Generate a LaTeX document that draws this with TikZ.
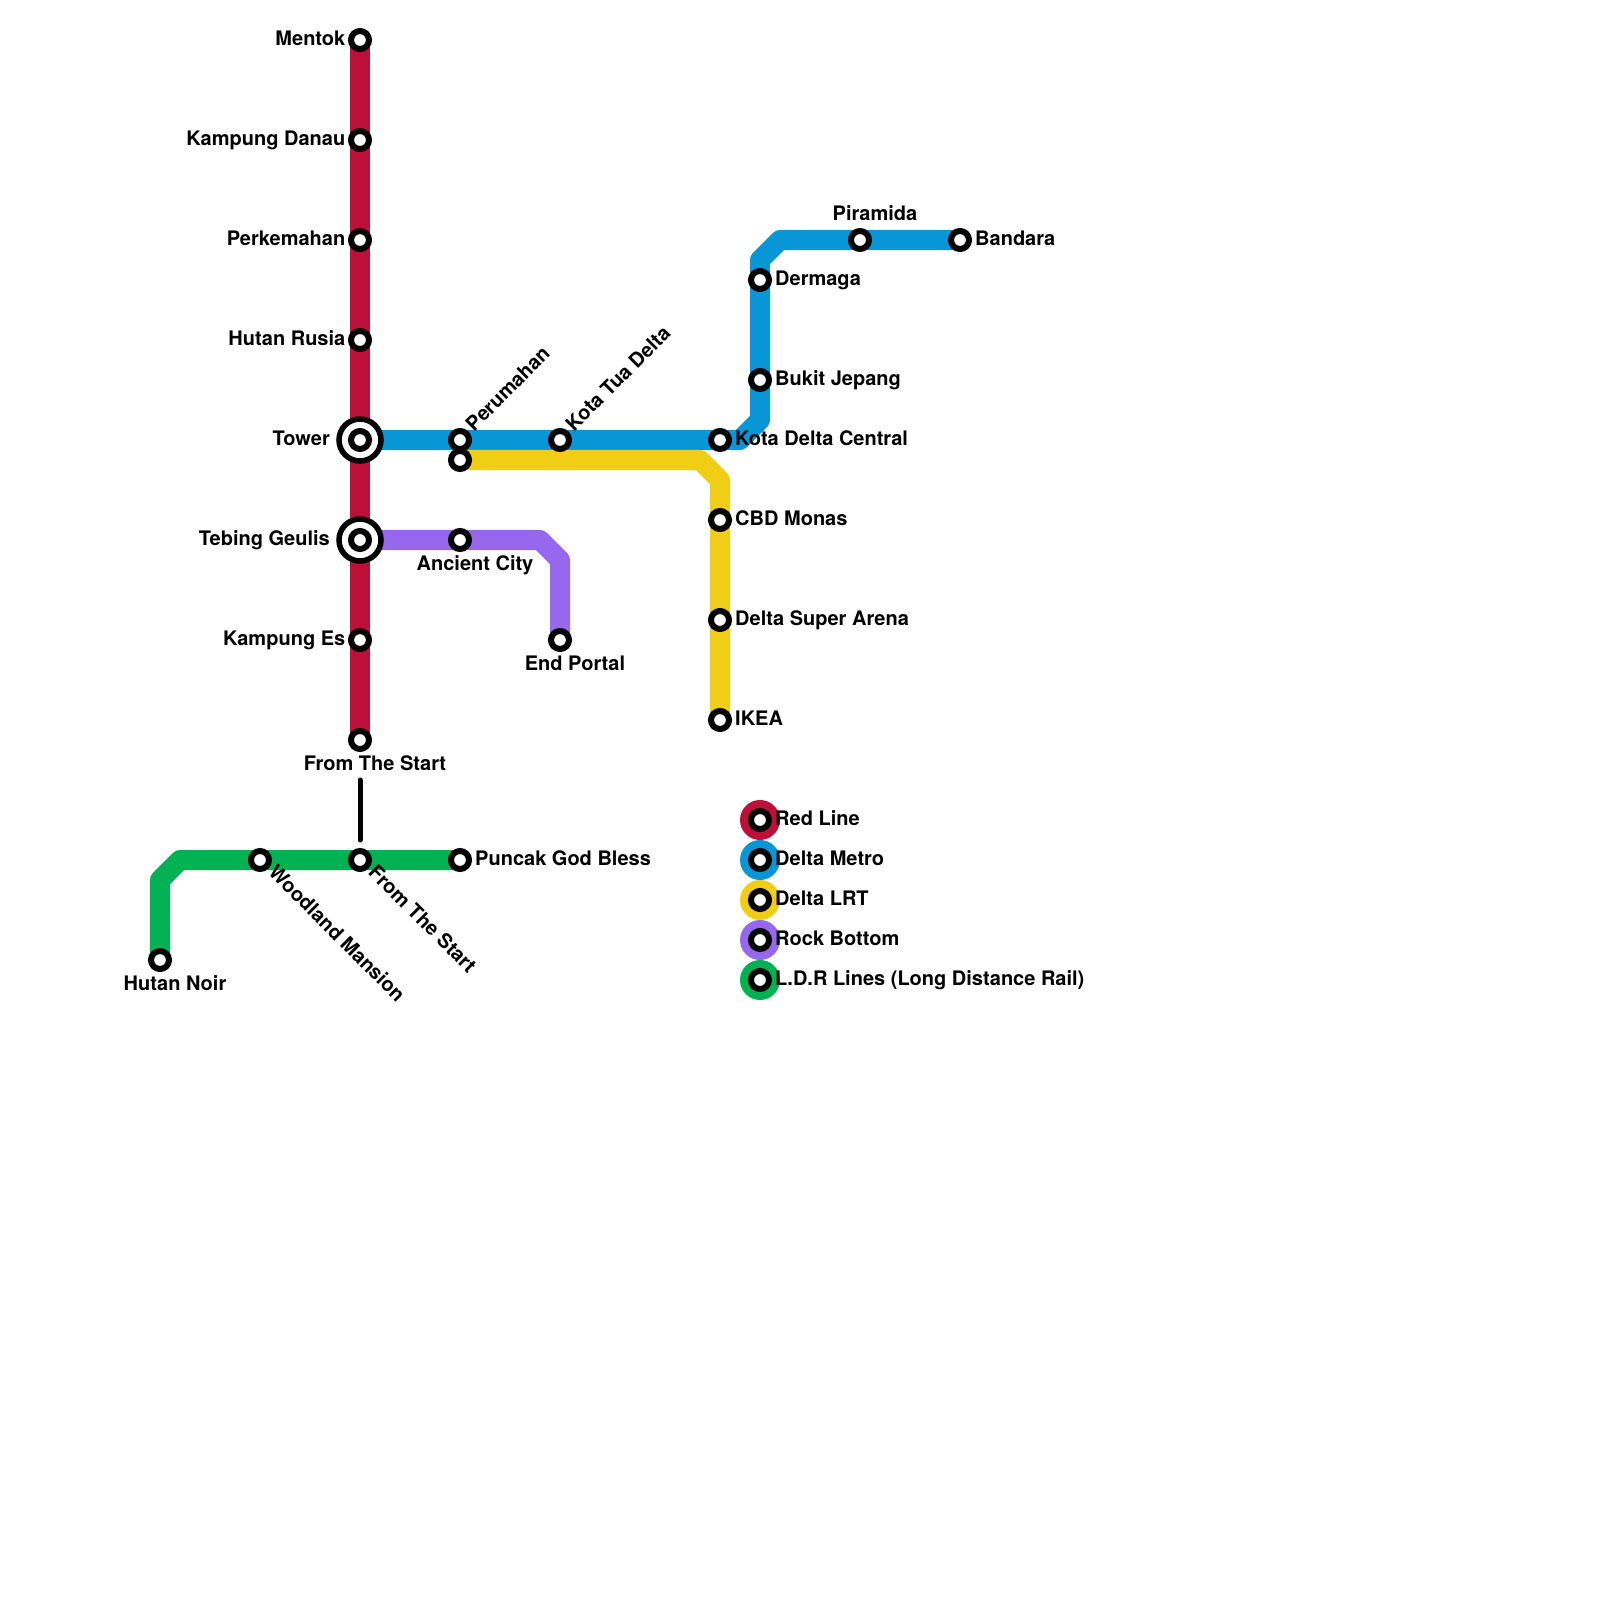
\documentclass[tikz,border=0pt]{standalone}
\usepackage{fontspec}
\setmainfont{TeX Gyre Heros}
\usetikzlibrary{backgrounds}
\definecolor{redline}{HTML}{BD1038}
\definecolor{deltametro}{HTML}{0896D7}
\definecolor{deltalrt}{HTML}{F0CE15}
\definecolor{rockbottom}{HTML}{9768EE}
\definecolor{ldrlines}{HTML}{00B251}
\tikzset{
  station/.style={circle,draw=black,fill=white,line width=0.6mm,minimum size=1.8mm,inner sep=0pt,outer sep=0pt},
  interchange/.style={circle,draw=black,fill=white,line width=0.55mm,minimum size=4.2mm,inner sep=0pt,outer sep=0pt},
  stationname/.style={inner sep=0pt,text height=1.45mm,text depth=0.4mm,font=\bfseries\fontsize{5.69}{6.5}\selectfont},
  metroline/.style={line width=2mm,line join=round},
  legenddisc/.style={circle,fill=#1,minimum size=4mm,inner sep=0pt,outer sep=0pt},
  transfer/.style={black,line width=0.5mm,line cap=round}
}
\newcommand{\namedstop}[7]{%
  \node[station] (#1) at (#2,#3) {};%
  \node[stationname,anchor=#5] (#1name) at (#2+#6,#3+#7) {#4};%
}
\begin{document}
\begin{tikzpicture}[x=0.01cm,y=-0.01cm]
  \useasboundingbox (0,0) rectangle (1600,1600);
  \node[interchange] (towerring) at (360,440) {};
  \node[interchange] (tebingring) at (360,540) {};
  \foreach \id/\y/\txt in {mentok/40/Mentok,danau/140/Kampung Danau,perkemahan/240/Perkemahan,rusia/340/Hutan Rusia,es/640/Kampung Es}
    \namedstop{\id}{360}{\y}{\txt}{east}{-14}{0};
  \namedstop{tower}{360}{440}{Tower}{east}{-29.5}{0}
  \namedstop{tebing}{360}{540}{Tebing Geulis}{east}{-29.5}{0}
  \namedstop{fromstart}{360}{740}{From The Start}{center}{15}{25}
  \node[station] (yellowstart) at (460,460) {};
  \foreach \id/\x/\y/\txt in {central/720/440/Kota Delta Central,monas/720/520/CBD Monas,arena/720/620/Delta Super Arena,ikea/720/720/IKEA,jepang/760/380/Bukit Jepang,dermaga/760/280/Dermaga,bandara/960/240/Bandara,puncak/460/860/Puncak God Bless}
    \namedstop{\id}{\x}{\y}{\txt}{west}{14.5}{0};
  \namedstop{piramida}{860}{240}{Piramida}{center}{15}{-25}
  \namedstop{ancient}{460}{540}{Ancient City}{center}{15}{25}
  \namedstop{endportal}{560}{640}{End Portal}{center}{15}{25}
  \namedstop{hutannoir}{160}{960}{Hutan Noir}{center}{15}{25}
  \node[station] (perumahan) at (460,440) {};
  \node[station] (kotatua) at (560,440) {};
  \node[station] (woodland) at (260,860) {};
  \node[station] (fromstartldr) at (360,860) {};
  \node[stationname,anchor=west,rotate=45] (perumahanname) at (470,429) {Perumahan};
  \node[stationname,anchor=west,rotate=45] (kotatuaname) at (570,429) {Kota Tua Delta};
  \node[stationname,anchor=west,rotate=-45] (woodlandname) at (270.5,869.5) {Woodland Mansion};
  \node[stationname,anchor=west,rotate=-45] (fromstartldrname) at (370.5,869.5) {From The Start};
  \foreach \id/\y/\col/\txt in {red/820/redline/Red Line,metro/860/deltametro/Delta Metro,lrt/900/deltalrt/Delta LRT,rock/940/rockbottom/Rock Bottom,ldr/980/ldrlines/L.D.R Lines (Long Distance Rail)}{
    \node[legenddisc=\col] (\id disc) at (760,\y) {};
    \namedstop{\id}{760}{\y}{\txt}{west}{14.5}{0}
  }
  \begin{scope}[on background layer]
    \coordinate (metrolow) at (760,420);
    \coordinate (metrolowleft) at (740,440);
    \coordinate (metrohigh) at (760,260);
    \coordinate (metrohighright) at (780,240);
    \coordinate (lrtleft) at (700,460);
    \coordinate (lrtdown) at (720,480);
    \coordinate (rockleft) at (540,540);
    \coordinate (rockdown) at (560,560);
    \coordinate (ldrright) at (180,860);
    \coordinate (ldrdown) at (160,880);
    \draw[metroline,redline] (mentok.center) -- (fromstart.center);
    \draw[metroline,deltametro] (tower.center) -- (metrolowleft) -- (metrolow) -- (metrohigh) -- (metrohighright) -- (bandara.center);
    \draw[metroline,deltalrt] (yellowstart.center) -- (lrtleft) -- (lrtdown) -- (ikea.center);
    \draw[metroline,rockbottom] (tebing.center) -- (rockleft) -- (rockdown) -- (endportal.center);
    \draw[metroline,ldrlines] (hutannoir.center) -- (ldrdown) -- (ldrright) -- (puncak.center);
  \end{scope}
  \draw[transfer,shorten <=4mm,shorten >=2mm] (fromstart.center) -- (fromstartldr.center);
\end{tikzpicture}
\end{document}
